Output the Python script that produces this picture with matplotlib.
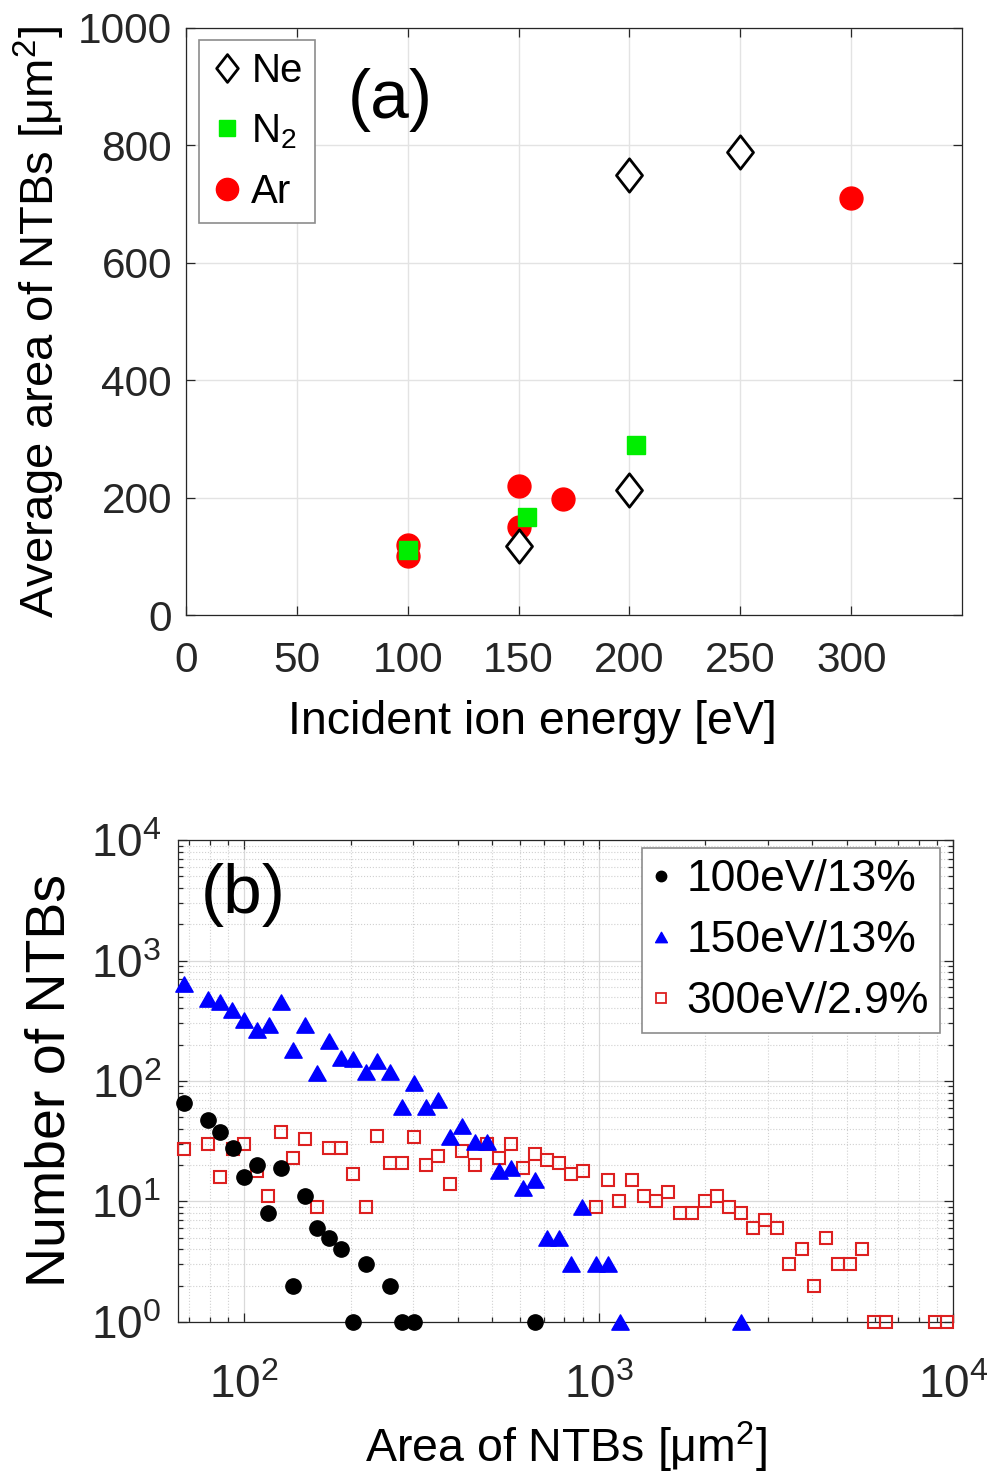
import matplotlib
matplotlib.use("Agg")
import matplotlib.pyplot as plt
from matplotlib.path import Path
from matplotlib.lines import Line2D
from matplotlib.ticker import (FixedLocator, LogLocator, LogFormatterMathtext,
                               NullFormatter)

plt.rcParams.update({
    "font.family": ["Liberation Sans", "DejaVu Sans"],
    "mathtext.fontset": "custom",
    "mathtext.rm": "Liberation Sans",
    "mathtext.it": "Liberation Sans:italic",
    "mathtext.bf": "Liberation Sans:bold",
    "mathtext.default": "regular",
    "axes.edgecolor": "#262626",
    "xtick.color": "#262626",
    "ytick.color": "#262626",
})

# ---- (a) average NTB area versus incident ion energy ----
ne_energy = [150, 200, 200, 250]
ne_area = [117, 213, 750, 788]
n2_energy = [100, 154, 203]
n2_area = [111, 167, 289]
ar_energy = [100, 100, 150, 150, 170, 300]
ar_area = [100, 120, 150, 220, 198, 710]

# ---- (b) NTB area histograms ----
area_100 = [67.5, 79, 85.3, 92.8, 100, 108.3, 117, 126.8, 137, 148.2, 160.5,
            173.6, 187.6, 202.8, 219.9, 256.9, 277.8, 300.7, 661.7]
count_100 = [66, 47, 38, 28, 16, 20, 8, 19, 2, 11, 6, 5, 4, 1, 3, 2, 1, 1, 1]

area_150 = [67.5, 79, 85.3, 92.4, 100, 108.3, 117.3, 126.8, 137.1, 148.2, 160.5,
            173.6, 187.6, 202.8, 219.9, 237.6, 256.9, 277.8, 300.7, 325.2, 351.5,
            380, 410.6, 446.4, 483.8, 523.4, 565.8, 612.1, 661.7, 715.3, 773.3,
            836.2, 899.1, 982.2, 1061.8, 1147.6, 2521]
count_150 = [634, 483, 453, 386, 319, 264, 290, 453, 180, 290, 117, 214, 156,
             151, 119, 147, 119, 61, 96, 61, 70, 34, 42, 31, 31, 18, 19, 13, 15,
             5, 5, 3, 9, 3, 3, 1, 1]

area_300 = [67.5, 79, 85.4, 92.8, 100.1, 108.3, 117, 126.8, 137.1, 148.2, 160.5,
            173.6, 187.6, 202.8, 219.9, 237.6, 256.9, 277.8, 300.7, 325.2, 351.5,
            380, 412.3, 446.4, 483.8, 522.4, 565.8, 611, 660.9, 714.6, 772.6,
            836.2, 904, 982.2, 1061.8, 1144, 1241, 1342, 1451, 1569, 1699, 1834,
            1995, 2157, 2332, 2521, 2726, 2953, 3193, 3452, 3733, 4036, 4364,
            4727, 5111, 5526, 5989, 6476, 8885, 9606]
count_300 = [27, 30, 16, 27, 30, 18, 11, 38, 23, 33, 9, 28, 28, 17, 9, 35, 21,
             21, 34, 20, 24, 14, 26, 20, 30, 23, 30, 19, 25, 22, 21, 17, 18, 9,
             15, 10, 15, 11, 10, 12, 8, 8, 10, 11, 9, 8, 6, 7, 6, 3, 4, 2, 5, 3,
             3, 4, 1, 1, 1, 1]

energy_ticks = [0, 50, 100, 150, 200, 250, 300]
area_ticks = [0, 200, 400, 600, 800, 1000]

# marker shapes
diamond = Path([(0, 1), (0.78, 0), (0, -1), (-0.78, 0), (0, 1)],
               [Path.MOVETO, Path.LINETO, Path.LINETO, Path.LINETO, Path.CLOSEPOLY])
triangle = Path([(0, 0.88), (-1, -0.88), (1, -0.88), (0, 0.88)],
                [Path.MOVETO, Path.LINETO, Path.LINETO, Path.CLOSEPOLY])

fig = plt.figure(figsize=(9.94, 14.81), dpi=100)

# ================= panel (a) =================
ax1 = fig.add_axes([0.187, 0.5847, 0.781, 0.3964])
ax1.set_xlim(0, 350)
ax1.set_ylim(0, 1000)
ax1.xaxis.set_major_locator(FixedLocator(energy_ticks))
ax1.yaxis.set_major_locator(FixedLocator(area_ticks))
ax1.grid(True, color="#e3e3e3", linewidth=1.0)
ax1.set_axisbelow(True)
ax1.tick_params(direction="in", length=6.5, width=0.9, labelsize=30.5,
                top=True, right=True)
ax1.tick_params(axis="x", pad=19)
ax1.tick_params(axis="y", pad=10)
for s in ax1.spines.values():
    s.set_linewidth(0.9)

ax1.plot(ne_energy, ne_area, linestyle="none", marker=diamond, ms=24,
         mfc="white", mec="black", mew=2.0, zorder=3)
ax1.plot(n2_energy, n2_area, linestyle="none", marker="s", ms=13,
         mfc="#00ee00", mec="#00ee00", zorder=4)
ax1.plot(ar_energy, ar_area, linestyle="none", marker="o", ms=16.5,
         mfc="#ff0000", mec="#ff0000", zorder=2)

ax1.set_xlabel("Incident ion energy [eV]", fontsize=33.5, labelpad=12)
ax1.xaxis.set_label_coords(0.446, -0.145)
ax1.set_ylabel("Average area of NTBs [μm$^2$]", fontsize=34, labelpad=8)
ax1.text(0.263, 0.877, "(a)", transform=ax1.transAxes, fontsize=50,
         ha="center", va="center")

leg_a = [
    Line2D([], [], linestyle="none", marker=diamond, ms=20, mfc="white",
           mec="black", mew=2.0, label="Ne"),
    Line2D([], [], linestyle="none", marker="s", ms=12, mfc="#00ee00",
           mec="#00ee00", label="N$_2$"),
    Line2D([], [], linestyle="none", marker="o", ms=16, mfc="#ff0000",
           mec="#ff0000", label="Ar"),
]
la = ax1.legend(handles=leg_a, loc="upper left", bbox_to_anchor=(0.0168, 0.9796),
                fontsize=29, frameon=True, fancybox=False, framealpha=1,
                edgecolor="#8c8c8c", handlelength=0.8, handletextpad=0.2,
                labelspacing=0.55, borderpad=0.3, borderaxespad=0)
la.get_frame().set_linewidth(1.2)

# ================= panel (b) =================
ax2 = fig.add_axes([0.179, 0.1074, 0.780, 0.3254])
ax2.set_xscale("log")
ax2.set_yscale("log")
ax2.set_xlim(65, 1e4)
ax2.set_ylim(1, 1e4)
ax2.xaxis.set_major_locator(LogLocator(base=10, numticks=10))
ax2.yaxis.set_major_locator(LogLocator(base=10, numticks=10))
ax2.xaxis.set_minor_locator(LogLocator(base=10, subs=range(2, 10), numticks=20))
ax2.yaxis.set_minor_locator(LogLocator(base=10, subs=range(2, 10), numticks=20))
ax2.xaxis.set_major_formatter(LogFormatterMathtext())
ax2.yaxis.set_major_formatter(LogFormatterMathtext())
ax2.xaxis.set_minor_formatter(NullFormatter())
ax2.yaxis.set_minor_formatter(NullFormatter())
ax2.grid(True, which="major", color="#d9d9d9", linewidth=0.9)
ax2.grid(True, which="minor", color="#d0d0d0", linewidth=0.8, linestyle=":")
ax2.set_axisbelow(True)
ax2.tick_params(which="both", direction="in", top=True, right=True, width=0.9)
ax2.tick_params(which="major", length=6.5, labelsize=33)
ax2.tick_params(axis="x", which="major", pad=30)
ax2.tick_params(axis="y", which="major", pad=12)
ax2.tick_params(which="minor", length=3.5)
for s in ax2.spines.values():
    s.set_linewidth(0.9)

ax2.plot(area_300, count_300, linestyle="none", marker="s", ms=8.5,
         mfc="none", mec="#dd2020", mew=1.5, clip_on=False, zorder=3,
         label="300eV/2.9%")
ax2.plot(area_100, count_100, linestyle="none", marker="o", ms=11,
         mfc="black", mec="black", clip_on=False, zorder=4, label="100eV/13%")
ax2.plot(area_150, count_150, linestyle="none", marker=triangle, ms=12.5,
         mfc="#0000ff", mec="#0000ff", clip_on=False, zorder=5,
         label="150eV/13%")

ax2.set_xlabel("Area of NTBs [μm$^2$]", fontsize=33.5, labelpad=9)
ax2.set_ylabel("Number of NTBs", fontsize=40, labelpad=10)
ax2.text(0.084, 0.886, "(b)", transform=ax2.transAxes, fontsize=50,
         ha="center", va="center")

leg_b = [
    Line2D([], [], linestyle="none", marker="o", ms=7.5, mfc="black",
           mec="black", label="100eV/13%"),
    Line2D([], [], linestyle="none", marker=triangle, ms=8.5, mfc="#0000ff",
           mec="#0000ff", label="150eV/13%"),
    Line2D([], [], linestyle="none", marker="s", ms=6.5, mfc="none",
           mec="#dd2020", mew=1.3, label="300eV/2.9%"),
]
lb = ax2.legend(handles=leg_b, loc="upper right", bbox_to_anchor=(0.983, 0.983),
                fontsize=32, frameon=True, fancybox=False, framealpha=1,
                edgecolor="#8c8c8c", handlelength=0.35, handletextpad=0.4,
                labelspacing=0.45, borderpad=0.25, borderaxespad=0)
lb.get_frame().set_linewidth(1.2)

fig.savefig("out.png", dpi=100)
